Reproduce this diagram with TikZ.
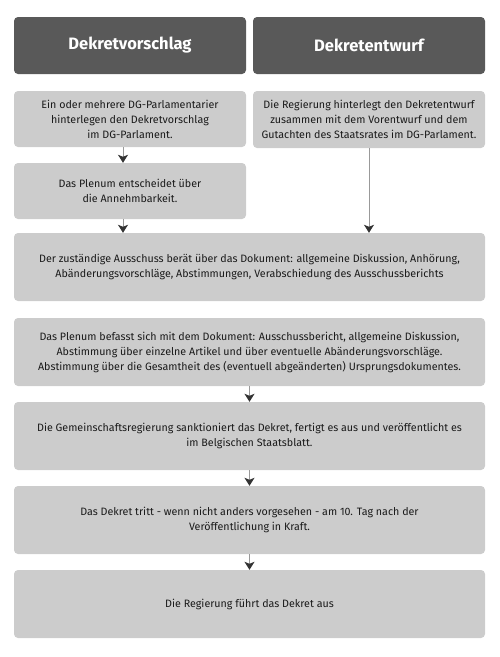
\documentclass[tikz,border=0pt]{standalone}
\usepackage{fontspec}
\setmainfont{Fira Sans}
\usetikzlibrary{arrows.meta}
\definecolor{hdr}{HTML}{595959}
\definecolor{boxc}{HTML}{CCCCCC}
\definecolor{arrc}{HTML}{333333}
\definecolor{linec}{HTML}{999999}
\definecolor{txt}{HTML}{1A1A1A}
\tikzset{
  hdrbox/.style={fill=hdr, rounded corners=4pt, minimum width=232pt, minimum height=57pt, text=white, font=\fontsize{16.5}{19}\selectfont\bfseries, inner sep=0pt},
  smallbox/.style={fill=boxc, rounded corners=4pt, minimum width=232pt, minimum height=56pt, align=center, text=txt, font=\fontsize{10.7}{15}\selectfont, inner sep=0pt},
  widebox/.style={fill=boxc, rounded corners=4pt, minimum width=471pt, minimum height=68pt, align=center, text=txt, font=\fontsize{10.7}{15}\selectfont, inner sep=0pt},
  flow/.style={draw=linec, line width=1pt, -{Stealth[length=8pt,width=10pt,inset=2pt,color=arrc]}, shorten >=0pt}
}
\begin{document}
\begin{tikzpicture}[x=1pt,y=-1pt]
\useasboundingbox (0,0) rectangle (500,657);
\node[hdrbox] (h1) at (130,45.5) {Dekretvorschlag};
\node[hdrbox] (h2) at (369,45.5) {Dekretentwurf};
\node[smallbox] (a) at (130,119) {Ein oder mehrere DG-Parlamentarier\\hinterlegen den Dekretvorschlag\\im DG-Parlament.};
\node[smallbox, minimum height=57pt] (b) at (369,119.5) {Die Regierung hinterlegt den Dekretentwurf\\zusammen mit dem Vorentwurf und dem\\Gutachten des Staatsrates im DG-Parlament.};
\node[smallbox] (c) at (130,191) {Das Plenum entscheidet über\\die Annehmbarkeit.};
\node[widebox] (d) at (249.5,267) {Der zuständige Ausschuss berät über das Dokument: allgemeine Diskussion, Anhörung,\\Abänderungsvorschläge, Abstimmungen, Verabschiedung des Ausschussberichts};
\node[widebox] (e) at (249.5,352) {Das Plenum befasst sich mit dem Dokument: Ausschussbericht, allgemeine Diskussion,\\Abstimmung über einzelne Artikel und über eventuelle Abänderungsvorschläge.\\Abstimmung über die Gesamtheit des (eventuell abgeänderten) Ursprungsdokumentes.};
\node[widebox] (f) at (249.5,436) {Die Gemeinschaftsregierung sanktioniert das Dekret, fertigt es aus und veröffentlicht es\\im Belgischen Staatsblatt.};
\node[widebox] (g) at (249.5,520) {Das Dekret tritt - wenn nicht anders vorgesehen - am 10. Tag nach der\\Veröffentlichung in Kraft.};
\node[widebox] (h) at (249.5,604) {Die Regierung führt das Dekret aus};
\draw[flow] ([xshift=-7pt]a.south) -- ([xshift=-7pt]c.north);
\draw[flow] ([xshift=-7pt]c.south) -- ([xshift=-7pt]c.south |- d.north);
\draw[flow] (b.south) -- (b.south |- d.north);
\draw[flow] (e.south) -- (f.north);
\draw[flow] (f.south) -- (g.north);
\draw[flow] (g.south) -- (h.north);
\end{tikzpicture}
\end{document}
